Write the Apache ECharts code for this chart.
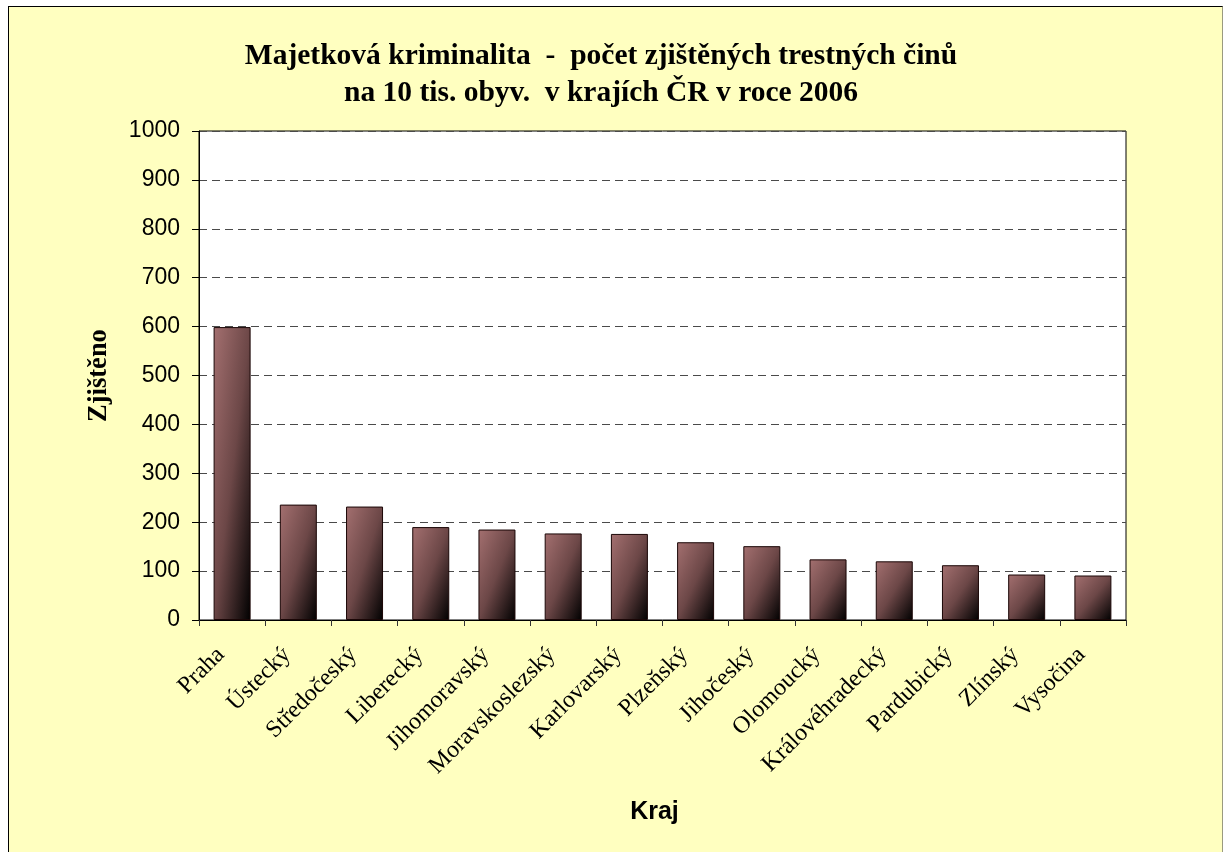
<!DOCTYPE html>
<html>
<head>
<meta charset="utf-8">
<script src="https://cdn.jsdelivr.net/npm/echarts@6/dist/echarts.min.js"></script>
<style>
  html, body { margin: 0; padding: 0; background: #ffffff; }
  #frame {
    position: absolute; left: 8px; top: 6px; width: 1213px; height: 900px;
    background: #FFFFC0; border-top: 1px solid #000; border-left: 1px solid #000;
    border-right: 1px solid #9a9a80;
  }
  #chart { position: absolute; left: 0; top: 0; width: 1223px; height: 852px; }
</style>
</head>
<body>
<div id="frame"></div>
<div id="chart"></div>
<script>
// Regions of the Czech Republic, sorted by recorded property crime
const regions = [
  'Praha', 'Ústecký', 'Středočeský', 'Liberecký', 'Jihomoravský',
  'Moravskoslezský', 'Karlovarský', 'Plzeňský', 'Jihočeský', 'Olomoucký',
  'Královéhradecký', 'Pardubický', 'Zlínský', 'Vysočina'
];
// Recorded offences per 10 000 inhabitants, 2006
const recorded = [599, 236, 232, 190, 185, 177, 176, 159, 151, 124, 120, 112, 93, 91];
const yTicks = { min: 0, max: 1000, step: 100 };

const titleLines = [
  'Majetková kriminalita  -  počet zjištěných trestných činů',
  'na 10 tis. obyv.  v krajích ČR v roce 2006'
];

// Plot geometry (pixels)
const grid = { left: 199, top: 131, right: 97, bottom: 232 };
const plotH = 852 - grid.top - grid.bottom;
const barW = 37;

// Diagonal shading: light top-left corner fading to black at bottom-right,
// with the colour bands running corner to corner whatever the bar's shape.
function diagonalFill(value) {
  const h = Math.max(1, value / yTicks.max * plotH);
  const w = barW;
  const d = h * h + w * w;
  return {
    type: 'linear',
    x: 0, y: 0,
    x2: 2 * h * h / d,
    y2: 2 * w * w / d,
    colorStops: [
      { offset: 0, color: '#a47070' },
      { offset: 0.5, color: '#6c4747' },
      { offset: 1, color: '#000000' }
    ]
  };
}

const barData = recorded.map(v => ({
  value: v,
  itemStyle: { color: diagonalFill(v) }
}));

const chart = echarts.init(document.getElementById('chart'), null, { renderer: 'canvas' });
chart.setOption({
  backgroundColor: 'transparent',
  animation: false,
  title: {
    text: titleLines.join('\n'),
    left: 596,
    top: 33,
    textAlign: 'center',
    textStyle: {
      fontFamily: 'Liberation Serif',
      fontWeight: 'bold',
      fontSize: 29.5,
      lineHeight: 37,
      color: '#000'
    }
  },
  grid: {
    left: grid.left, top: grid.top, right: grid.right, bottom: grid.bottom,
    show: true, backgroundColor: '#ffffff', borderColor: '#000', borderWidth: 1
  },
  xAxis: {
    type: 'category',
    data: regions,
    name: 'Kraj',
    nameLocation: 'middle',
    nameGap: 180,
    nameTextStyle: {
      fontFamily: 'Liberation Sans', fontWeight: 'bold', fontSize: 25, color: '#000',
      padding: [0, 16, 0, 0]
    },
    axisLine: { lineStyle: { color: '#000', width: 1 } },
    axisTick: { show: true, length: 6, lineStyle: { color: '#333' } },
    axisLabel: {
      rotate: 45,
      interval: 0,
      margin: 20,
      padding: [0, 16, 0, 0],
      fontFamily: 'Liberation Serif',
      fontSize: 24,
      color: '#000'
    }
  },
  yAxis: {
    type: 'value',
    min: yTicks.min,
    max: yTicks.max,
    interval: yTicks.step,
    name: 'Zjištěno',
    nameLocation: 'middle',
    nameGap: 86,
    nameRotate: 90,
    nameTextStyle: {
      fontFamily: 'Liberation Serif', fontWeight: 'bold', fontSize: 26.5, color: '#000'
    },
    axisLine: { show: true, lineStyle: { color: '#000', width: 1 } },
    axisTick: { show: true, length: 7, lineStyle: { color: '#000' } },
    axisLabel: {
      margin: 19,
      formatter: v => String(v),
      fontFamily: 'Liberation Sans',
      fontSize: 23,
      color: '#000'
    },
    splitLine: {
      show: true,
      lineStyle: { color: '#4a4a4a', width: 1, type: [8, 5] }
    }
  },
  series: [{
    type: 'bar',
    data: barData,
    barWidth: barW,
    itemStyle: { borderColor: '#1a0606', borderWidth: 1 }
  }]
});
</script>
</body>
</html>
